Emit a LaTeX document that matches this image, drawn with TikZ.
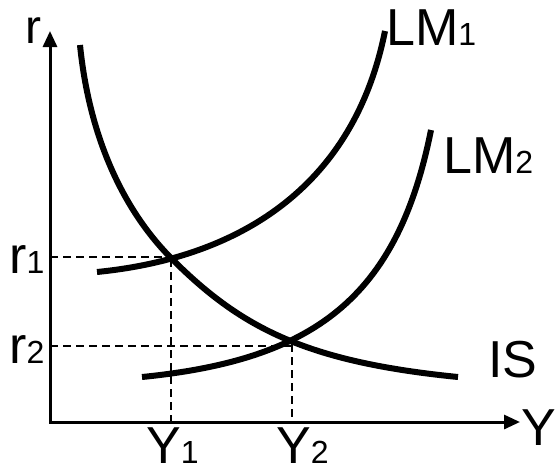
\documentclass[tikz,border=0pt]{standalone}
\usepackage{fontspec}
\setmainfont{Liberation Sans}
\usetikzlibrary{arrows.meta}
\newcommand{\idx}[1]{{\fontsize{32}{32}\selectfont #1}}

\begin{document}
\begin{tikzpicture}[
  x=1pt, y=-1pt,
  axisLine/.style={line width=3pt, {Triangle[length=16pt, width=14pt]}-{Triangle[length=16pt, width=14pt]}},
  curveLine/.style={line width=6pt},
  guideLine/.style={line width=2pt, dash pattern=on 8pt off 5pt},
  mainLabel/.style={font=\fontsize{52}{52}\selectfont, inner sep=0pt, anchor=base west}
]
\useasboundingbox (0,0) rectangle (556,474);

% Axes
\coordinate (rTop) at (50,31);
\coordinate (origin) at (50,422);
\coordinate (yEnd) at (520,422);
\draw[axisLine] (rTop) -- (origin) -- (yEnd);

% Equilibrium points
\coordinate (eqA) at (172,259);
\coordinate (eqB) at (291,344);
\coordinate (rA) at (50,257);
\coordinate (rB) at (50,346);
\coordinate (yA) at (171,422);
\coordinate (yB) at (292,422);

% Curve ends
\coordinate (isTop) at (80,45);
\coordinate (isEnd) at (458,377);
\coordinate (lmOneLow) at (97,272);
\coordinate (lmOneHigh) at (385,31);
\coordinate (lmTwoLow) at (142,377);
\coordinate (lmTwoHigh) at (431,130);

% Curves
\draw[curveLine] (isTop) .. controls (89,135) and (122,209) .. (eqA)
  .. controls (242,329) and (308,362) .. (isEnd);
\draw[curveLine] (lmOneLow) .. controls (247,257) and (355,181) .. (lmOneHigh);
\draw[curveLine] (lmTwoLow) .. controls (312,360) and (397,300) .. (lmTwoHigh);

% Guides
\draw[guideLine] (rA) -- (eqA |- rA);
\draw[guideLine] (yA |- eqA) -- (yA);
\draw[guideLine] (rB) -- (eqB |- rB);
\draw[guideLine] (yB |- eqB) -- (yB);

% Labels
\node[mainLabel, font=\fontsize{48}{48}\selectfont] (rLbl) at (25,43) {r};
\node[mainLabel] (yLbl) at (521,445) {Y};
\node[mainLabel] (lmOne) at (386,45) {LM\idx{1}};
\node[mainLabel] (lmTwo) at (443,173) {LM\idx{2}};
\node[mainLabel] (isLbl) at (488,377) {IS};
\node[mainLabel] (rOne) at (9,273) {r\idx{1}};
\node[mainLabel] (rTwo) at (9,363) {r\idx{2}};
\node[mainLabel] (yOne) at (146,463) {Y\idx{1}};
\node[mainLabel] (yTwo) at (276,463) {Y\idx{2}};
\end{tikzpicture}
\end{document}
